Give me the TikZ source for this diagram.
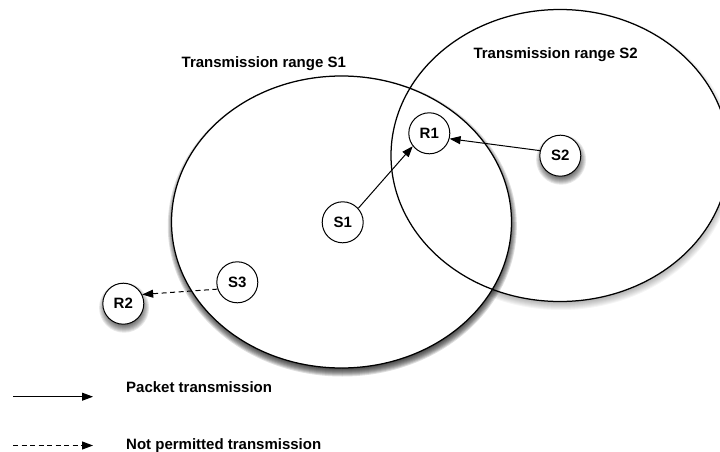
\documentclass[tikz,border=0pt]{standalone}
\usepackage{fontspec}
\setmainfont{Liberation Sans}
\usetikzlibrary{arrows.meta}
% soft drop shadow built from stacked translucent ellipses:
% #1 centre coordinate name, #2 x radius, #3 y radius, #4 opacity of each layer
\newcommand\softshade[4]{%
  \foreach \k in {0,...,8}{%
    \fill[black,opacity=#4] ([shift={(0.8pt,-4pt)}]#1)
      ellipse [x radius={#2+4.5pt-\k*1pt}, y radius={#3+4.5pt-\k*1pt}];
  }%
}
\begin{document}
\begin{tikzpicture}[x=1pt,y=-1pt,
  every node/.style={font=\fontsize{15}{18}\selectfont\bfseries},
  station/.style={circle,draw,line width=1pt,fill=white,minimum size=41pt,inner sep=0pt},
  rangeline/.style={line width=1.25pt},
  send/.style={line width=1pt,-{Triangle[length=11pt,width=8pt]}},
  blocked/.style={send,dash pattern=on 5pt off 3.5pt},
  caption/.style={anchor=base west,inner sep=0pt}]
\useasboundingbox (0,0) rectangle (720,452);

% centres of the two ranges and of the stations
\coordinate (c2) at (560,155.5);
\coordinate (c1) at (341.5,222);
\coordinate (pS2) at (560.3,155.7);
\coordinate (pR2) at (123.3,303.7);

% transmission ranges: shadows and white fills first, outlines on top
\softshade{c2}{169pt}{146pt}{0.04}
\fill[white] (c2) ellipse [x radius=169pt,y radius=146pt];
\softshade{c1}{170pt}{146pt}{0.13}
\fill[white] (c1) ellipse [x radius=170pt,y radius=146pt];
\draw[rangeline] (c2) ellipse [x radius=169pt,y radius=146pt];
\draw[rangeline] (c1) ellipse [x radius=170pt,y radius=146pt];

\node[caption] (t1) at (181.5,67.5) {Transmission range S1};
\node[caption] (t2) at (473.3,59) {Transmission range S2};

% stations
\softshade{pS2}{20.5pt}{20.5pt}{0.09}
\softshade{pR2}{20.5pt}{20.5pt}{0.09}
\node[station] (S1) at (342.7,222.3) {S1};
\node[station] (R1) at (429.3,133.3) {R1};
\node[station] (S2) at (pS2) {S2};
\node[station] (S3) at (237.3,282.3) {S3};
\node[station] (R2) at (pR2) {R2};

% transmissions
\draw[send] (S1.42) -- (R1.218);
\draw[send] (S2.166) -- (R1.345);
\draw[blocked] (S3.199) -- (R2.26);

% legend
\coordinate (p0) at (13,396.7);
\coordinate (p1) at (93,396.7);
\draw[send] (p0) -- (p1);
\coordinate (n0) at (13,445.5);
\coordinate (n1) at (93,445.5);
\draw[blocked] (n0) -- (n1);
\node[caption] (lp) at (126,392.5) {Packet transmission};
\node[caption] (ln) at (126,449) {Not permitted transmission};
\end{tikzpicture}
\end{document}
